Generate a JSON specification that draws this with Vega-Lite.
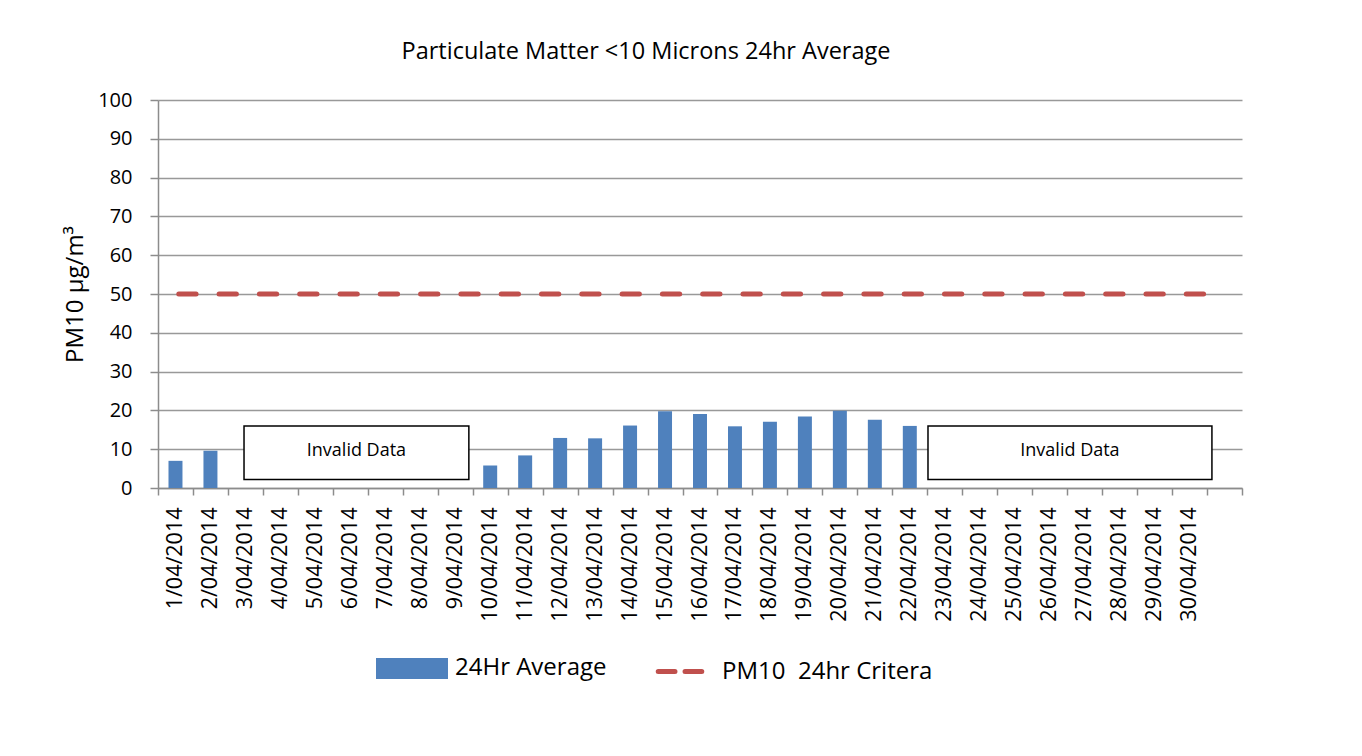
{
  "$schema": "https://vega.github.io/schema/vega-lite/v6.json",
  "autosize": {"type": "none"},
  "width": 1084,
  "height": 388,
  "padding": {"left": 158, "top": 100, "right": 120, "bottom": 268},
  "background": "white",
  "title": {
    "text": "Particulate Matter <10 Microns 24hr Average",
    "font": "Open Sans",
    "fontSize": 23.5,
    "fontWeight": "normal",
    "color": "#000000",
    "anchor": "middle",
    "dx": -54,
    "offset": 27
  },
  "datasets": {
    "pm": [
      {"date": "1/04/2014", "avg": 7.0, "crit": 50},
      {"date": "2/04/2014", "avg": 9.6, "crit": 50},
      {"date": "3/04/2014", "avg": null, "crit": 50},
      {"date": "4/04/2014", "avg": null, "crit": 50},
      {"date": "5/04/2014", "avg": null, "crit": 50},
      {"date": "6/04/2014", "avg": null, "crit": 50},
      {"date": "7/04/2014", "avg": null, "crit": 50},
      {"date": "8/04/2014", "avg": null, "crit": 50},
      {"date": "9/04/2014", "avg": null, "crit": 50},
      {"date": "10/04/2014", "avg": 5.8, "crit": 50},
      {"date": "11/04/2014", "avg": 8.4, "crit": 50},
      {"date": "12/04/2014", "avg": 12.9, "crit": 50},
      {"date": "13/04/2014", "avg": 12.8, "crit": 50},
      {"date": "14/04/2014", "avg": 16.1, "crit": 50},
      {"date": "15/04/2014", "avg": 19.8, "crit": 50},
      {"date": "16/04/2014", "avg": 19.1, "crit": 50},
      {"date": "17/04/2014", "avg": 15.9, "crit": 50},
      {"date": "18/04/2014", "avg": 17.1, "crit": 50},
      {"date": "19/04/2014", "avg": 18.4, "crit": 50},
      {"date": "20/04/2014", "avg": 19.9, "crit": 50},
      {"date": "21/04/2014", "avg": 17.6, "crit": 50},
      {"date": "22/04/2014", "avg": 16.0, "crit": 50},
      {"date": "23/04/2014", "avg": null, "crit": 50},
      {"date": "24/04/2014", "avg": null, "crit": 50},
      {"date": "25/04/2014", "avg": null, "crit": 50},
      {"date": "26/04/2014", "avg": null, "crit": 50},
      {"date": "27/04/2014", "avg": null, "crit": 50},
      {"date": "28/04/2014", "avg": null, "crit": 50},
      {"date": "29/04/2014", "avg": null, "crit": 50},
      {"date": "30/04/2014", "avg": null, "crit": 50},
      {"date": " ", "avg": null, "crit": 50}
    ],
    "boxes": [
      {"start": 2.46, "end": 8.89, "mid": 5.675, "low": 2.2, "high": 16.0, "ym": 9.5, "label": "Invalid Data"},
      {"start": 22.02, "end": 30.14, "mid": 26.08, "low": 2.2, "high": 16.0, "ym": 9.5, "label": "Invalid Data"}
    ]
  },
  "layer": [
    {
      "data": {"name": "pm"},
      "encoding": {
        "x": {
          "field": "date",
          "type": "nominal",
          "sort": null,
          "scale": {
            "domain": ["1/04/2014", "2/04/2014", "3/04/2014", "4/04/2014", "5/04/2014", "6/04/2014", "7/04/2014", "8/04/2014", "9/04/2014", "10/04/2014", "11/04/2014", "12/04/2014", "13/04/2014", "14/04/2014", "15/04/2014", "16/04/2014", "17/04/2014", "18/04/2014", "19/04/2014", "20/04/2014", "21/04/2014", "22/04/2014", "23/04/2014", "24/04/2014", "25/04/2014", "26/04/2014", "27/04/2014", "28/04/2014", "29/04/2014", "30/04/2014", " "],
            "paddingInner": 0,
            "paddingOuter": 0
          },
          "axis": {"title": null}
        }
      },
      "layer": [
        {
          "mark": {"type": "bar", "width": {"band": 0.4}, "color": "#4f81bd"},
          "encoding": {
            "y": {
              "field": "avg",
              "type": "quantitative",
              "scale": {"domain": [0, 100], "nice": false},
              "axis": {"title": "PM10 µg/m³"}
            },
            "color": {
              "datum": "24Hr Average",
              "type": "nominal",
              "scale": {"domain": ["24Hr Average", "PM10\u00a0 24hr Critera"], "range": ["#4f81bd", "#c0504d"]},
              "legend": {
                "title": null,
                "orient": "none",
                "legendX": 218,
                "legendY": 532,
                "direction": "horizontal",
                "padding": 0,
                "symbolType": "M-1,-0.24H1V0.24H-1Z",
                "symbolSize": 4489,
                "symbolStrokeWidth": 5,
                "labelFont": "Open Sans",
                "labelFontSize": 24,
                "labelColor": "#000000",
                "labelOffset": 7,
                "columnPadding": 36,
                "labelLimit": 400,
                "encode": {
                  "symbols": {
                    "update": {
                      "shape": {"signal": "datum.value === '24Hr Average' ? 'M-1,-0.24H1V0.24H-1Z' : 'M-0.62,0H-0.12M0.18,0H0.68'"},
                      "fill": {"signal": "datum.value === '24Hr Average' ? '#4f81bd' : 'transparent'"},
                      "stroke": {"signal": "datum.value === '24Hr Average' ? 'transparent' : '#c0504d'"},
                      "strokeWidth": {"value": 5},
                      "strokeCap": {"value": "round"},
                      "opacity": {"value": 1}
                    }
                  }
                }
              }
            }
          }
        },
        {
          "mark": {"type": "line", "strokeWidth": 5, "strokeDash": [17.3, 23], "strokeDashOffset": 37, "strokeCap": "round"},
          "encoding": {
            "y": {"field": "crit", "type": "quantitative", "axis": {"title": "PM10 µg/m³"}},
            "color": {"datum": "PM10\u00a0 24hr Critera", "type": "nominal"}
          }
        }
      ]
    },
    {
      "data": {"name": "boxes"},
      "layer": [
        {
          "mark": {"type": "rect", "fill": "white", "stroke": "#000000", "strokeWidth": 1.5},
          "encoding": {
            "x": {"field": "start", "type": "quantitative", "scale": {"domain": [0, 31], "nice": false, "zero": false}, "axis": null},
            "x2": {"field": "end"},
            "y": {"field": "low", "type": "quantitative", "axis": {"title": "PM10 µg/m³"}},
            "y2": {"field": "high"}
          }
        },
        {
          "mark": {"type": "text", "font": "Open Sans", "fontSize": 18, "color": "#000000", "align": "center", "baseline": "middle"},
          "encoding": {
            "x": {"field": "mid", "type": "quantitative", "axis": null},
            "y": {"field": "ym", "type": "quantitative", "axis": {"title": "PM10 µg/m³"}},
            "text": {"field": "label"}
          }
        }
      ]
    }
  ],
  "resolve": {"scale": {"x": "independent"}},
  "config": {
    "view": {"stroke": null},
    "axisX": {
      "labelAngle": -90,
      "labelFont": "Open Sans",
      "labelFontSize": 21.5,
      "labelColor": "#000000",
      "labelPadding": 12,
      "tickBand": "extent",
      "tickSize": 7,
      "tickColor": "#8c8c8c",
      "tickWidth": 1.5,
      "domainColor": "#8c8c8c",
      "domainWidth": 1.5,
      "grid": false
    },
    "axisY": {
      "tickCount": 10,
      "titleFont": "Open Sans",
      "titleFontSize": 24,
      "titleFontWeight": "normal",
      "titleColor": "#000000",
      "titlePadding": 10,
      "labelFont": "Open Sans",
      "labelFontSize": 20,
      "labelColor": "#000000",
      "labelPadding": 18,
      "tickSize": 8,
      "tickColor": "#8c8c8c",
      "tickWidth": 1.5,
      "domainColor": "#8c8c8c",
      "domainWidth": 1.5,
      "grid": true,
      "gridColor": "#999999",
      "gridWidth": 1.5
    }
  }
}
